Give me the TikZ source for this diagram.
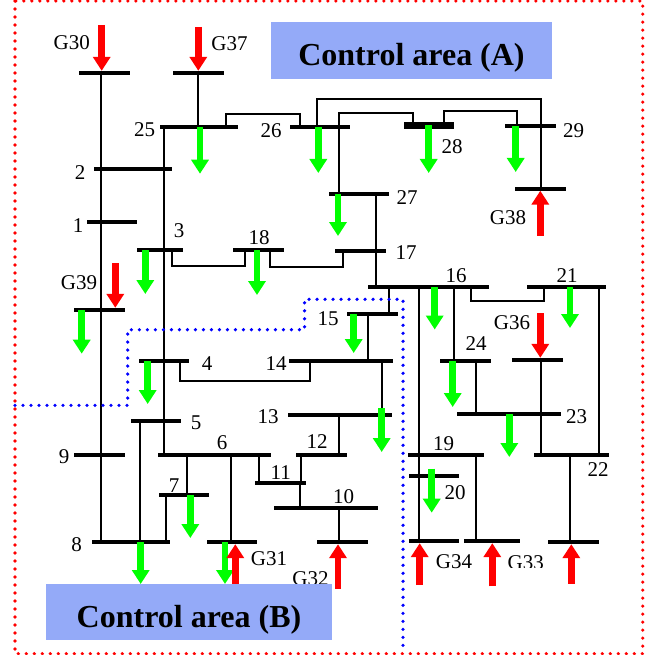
\documentclass[tikz,border=0pt]{standalone}
\usepackage{fontspec}
\setmainfont{Liberation Serif}
\usetikzlibrary{arrows.meta}
\definecolor{areablue}{HTML}{94AAF8}
\definecolor{loadgreen}{HTML}{00FF00}
\tikzset{
  busbar/.style={rectangle,fill=black,inner sep=0pt,minimum height=4pt},
  wire/.style={draw=black,line width=2pt,line join=miter},
  loadarrow/.style={draw=loadgreen,line width=6.5pt,-{Triangle[length=14pt,width=17pt,fill=loadgreen]}},
  genarrow/.style={draw=red,line width=6.5pt,-{Triangle[length=14pt,width=17pt,fill=red]}},
  lbl/.style={inner sep=0pt,font=\fontsize{21}{24}\selectfont},
  arealbl/.style={inner sep=0pt,font=\fontsize{32}{36}\selectfont\bfseries},
  areabox/.style={fill=areablue,draw=none},
  redframe/.style={draw=red,line width=3.6pt,line cap=round,dash pattern=on 0pt off 8pt},
  blueborder/.style={draw=blue,line width=3.6pt,line cap=round,dash pattern=on 0pt off 8pt},
}
\newcommand{\busb}[4]{\node[busbar,minimum width={(#3-#2)*1pt}] (#1) at ({(#2+#3)/2},#4) {};}
\newcommand{\feeder}[3]{\draw[wire] (#1.center -| #3,0) -- (#2.center -| #3,0);}
\newcommand{\loadon}[3]{\draw[loadarrow] (#1.center -| #2,0) -- (#2,#3);}
\newcommand{\genabove}[3]{\draw[genarrow] (#2,#3) -- (#1.north -| #2,0);}
\newcommand{\genbelow}[3]{\draw[genarrow] (#2,#3) -- (#1.south -| #2,0);}
\begin{document}
\begin{tikzpicture}[x=1pt,y=-1pt]
\useasboundingbox (0,0) rectangle (654,655);
\clip (0,0) rectangle (654,655);
\busb{g30}{79}{130}{73}
\busb{g37}{173}{224}{73}
\busb{b25}{160}{238}{127}
\busb{b26}{290}{350}{127}
\node[busbar,minimum width=50pt,minimum height=6.5pt] (b28) at (429,125.5) {};
\busb{b29}{505}{556}{126}
\busb{b27}{329}{389}{193.5}
\busb{g38}{515}{566}{188.5}
\busb{b17}{335}{386}{251}
\busb{b16}{368}{489}{287}
\busb{b21}{527}{606}{287}
\busb{b2}{94}{172}{169}
\busb{b1}{87}{137}{222}
\busb{b3}{137}{183}{250}
\busb{b18}{233}{284}{250}
\busb{g39}{74}{125}{310}
\busb{b15}{347}{398}{314}
\busb{b4}{139}{189}{361}
\busb{b14}{289}{393}{361}
\busb{b13}{288}{392}{414.5}
\busb{b5}{131}{181}{421}
\busb{b6}{158}{271}{455}
\busb{b9}{74}{125}{455}
\busb{b12}{296}{347}{455}
\busb{b11}{255}{306}{483}
\busb{b10}{274}{378}{508}
\busb{b7}{159}{209}{495}
\busb{b8}{92}{170}{542}
\busb{g31}{207}{257}{542}
\busb{g32}{317}{368}{542}
\busb{b24}{440}{491}{361}
\busb{g36}{512}{563}{360}
\busb{b23}{457}{561}{414}
\busb{b19}{408}{484}{455}
\busb{b22}{534}{609}{455}
\busb{b20}{409}{459}{476}
\busb{g34}{409}{459}{541}
\busb{g33}{464}{520}{541}
\busb{g35}{548}{599}{542}
% straight connectors
\feeder{g30}{b8}{101}
\feeder{g37}{b25}{198}
\feeder{b25}{b6}{164}
\feeder{b27}{b16}{376}
\feeder{b14}{b15}{368}
\feeder{b15}{b16}{389}
\feeder{b14}{b13}{382}
\feeder{b13}{b12}{339}
\feeder{b12}{b11}{301}
\feeder{b11}{b10}{300}
\feeder{b6}{b11}{259}
\feeder{b10}{g32}{339}
\feeder{b6}{b7}{187}
\feeder{b7}{b8}{166}
\feeder{b5}{b8}{140}
\feeder{b6}{g31}{231}
\feeder{b16}{g34}{419}
\feeder{b16}{b24}{454}
\feeder{b24}{b23}{476}
\feeder{g36}{b22}{541}
\feeder{b21}{b22}{599}
\feeder{b19}{g33}{476}
\feeder{b22}{g35}{570}
% bent connectors
\draw[wire] (b25.center -| 226,0) |- (300,114) -- (b26.center -| 300,0);
\draw[wire] (b26.center -| 317,0) |- (541,99) -- (g38.center -| 541,0);
\draw[wire] (b27.center -| 339,0) |- (413,113) -- (b28.center -| 413,0);
\draw[wire] (b28.center -| 444,0) |- (517,111) -- (b29.center -| 517,0);
\draw[wire] (b17.center -| 343,0) |- (270,267) -- (b18.center -| 270,0);
\draw[wire] (b3.center -| 172,0) |- (245,266) -- (b18.center -| 245,0);
\draw[wire] (b4.center -| 180,0) |- (310,381) -- (b14.center -| 310,0);
\draw[wire] (b16.center -| 471,0) |- (544,301) -- (b21.center -| 544,0);
% blue area border
\draw[blueborder] (15,405.3) -| (127.7,329.7) -| (304.5,299.3) -| (403,645.3);
% load arrows
\loadon{b25}{200}{173.7}
\loadon{b26}{318.3}{173}
\loadon{b28}{428.7}{173}
\loadon{b29}{515.7}{172}
\loadon{b27}{338}{236}
\loadon{b3}{145.3}{294}
\loadon{b18}{257}{295}
\loadon{g39}{81.7}{353.7}
\loadon{b15}{353.7}{353}
\loadon{b16}{434.7}{329.5}
\loadon{b21}{570}{328}
\loadon{b24}{452.7}{407}
\loadon{b4}{147.7}{404}
\draw[loadarrow] ([yshift=6.5pt]b13.center -| 381.7,0) -- (381.7,452);
\loadon{b23}{509.3}{457}
\loadon{b7}{190.3}{538}
\draw[loadarrow] ([yshift=7.5pt]b20.center -| 431.7,0) -- (431.7,512.7);
\loadon{b8}{140.7}{584}
\loadon{g31}{225}{584}
% generator arrows
\genabove{g30}{101.7}{25}
\genabove{g37}{198.3}{27}
\genabove{g39}{115.3}{263.3}
\genbelow{g38}{540.3}{235.7}
\genabove{g36}{540.3}{313.3}
\genbelow{g31}{235.3}{584}
\genbelow{g32}{338}{588.7}
\genbelow{g34}{419.7}{585}
\genbelow{g33}{492.3}{586.3}
\genbelow{g35}{571.3}{583.7}
% labels
\node[lbl] (tG30) at (71.7,43) {G30};
\node[lbl] (tG37) at (229.5,44) {G37};
\node[lbl] (t25) at (144.5,130) {25};
\node[lbl] (t26) at (271,131) {26};
\node[lbl] (t2) at (80,173) {2};
\node[lbl] (t1) at (78,225.7) {1};
\node[lbl] (t3) at (179,231) {3};
\node[lbl] (t18) at (259,238) {18};
\node[lbl] (tG39) at (79,283) {G39};
\node[lbl] (t15) at (328,319) {15};
\node[lbl] (t27) at (407,198) {27};
\node[lbl] (t28) at (452,146.7) {28};
\node[lbl] (t29) at (573.7,130.7) {29};
\node[lbl] (tG38) at (508,218) {G38};
\node[lbl] (t17) at (406,253) {17};
\node[lbl] (t16) at (456,276) {16};
\node[lbl] (t21) at (567,276) {21};
\node[lbl] (tG36) at (512,323) {G36};
\node[lbl] (t24) at (476,343.7) {24};
\node[lbl] (t4) at (207,363.7) {4};
\node[lbl] (t14) at (276,363.7) {14};
\node[lbl] (t13) at (268,417) {13};
\node[lbl] (t5) at (196,423) {5};
\node[lbl] (t6) at (222,443) {6};
\node[lbl] (t12) at (317,442) {12};
\node[lbl] (t11) at (280.7,473) {11};
\node[lbl] (t10) at (343.7,497) {10};
\node[lbl] (t9) at (64,457) {9};
\node[lbl] (t7) at (174,486) {7};
\node[lbl] (t8) at (76.7,545) {8};
\node[lbl] (tG31) at (269,559) {G31};
\node[lbl] (tG32) at (310.5,578.7) {G32};
\node[lbl] (t19) at (443.7,444) {19};
\node[lbl] (t20) at (455,492.7) {20};
\node[lbl] (t23) at (576.7,417) {23};
\node[lbl] (t22) at (598,470) {22};
\node[lbl] (tG34) at (454,562) {G34};
\node[lbl] (tG33) at (525.7,563) {G33};
\fill[white] (503,567.7) rectangle (552,580);
% control areas
\path[areabox] (271,22) rectangle (552,79);
\node[arealbl] (areaA) at (411.5,58) {Control area (A)};
\path[areabox] (46,584) rectangle (332,639.7);
\node[arealbl] (areaB) at (189,620) {Control area (B)};
% red frame
\draw[redframe] (15,1) rectangle (642.7,653.7);
\end{tikzpicture}
\end{document}
